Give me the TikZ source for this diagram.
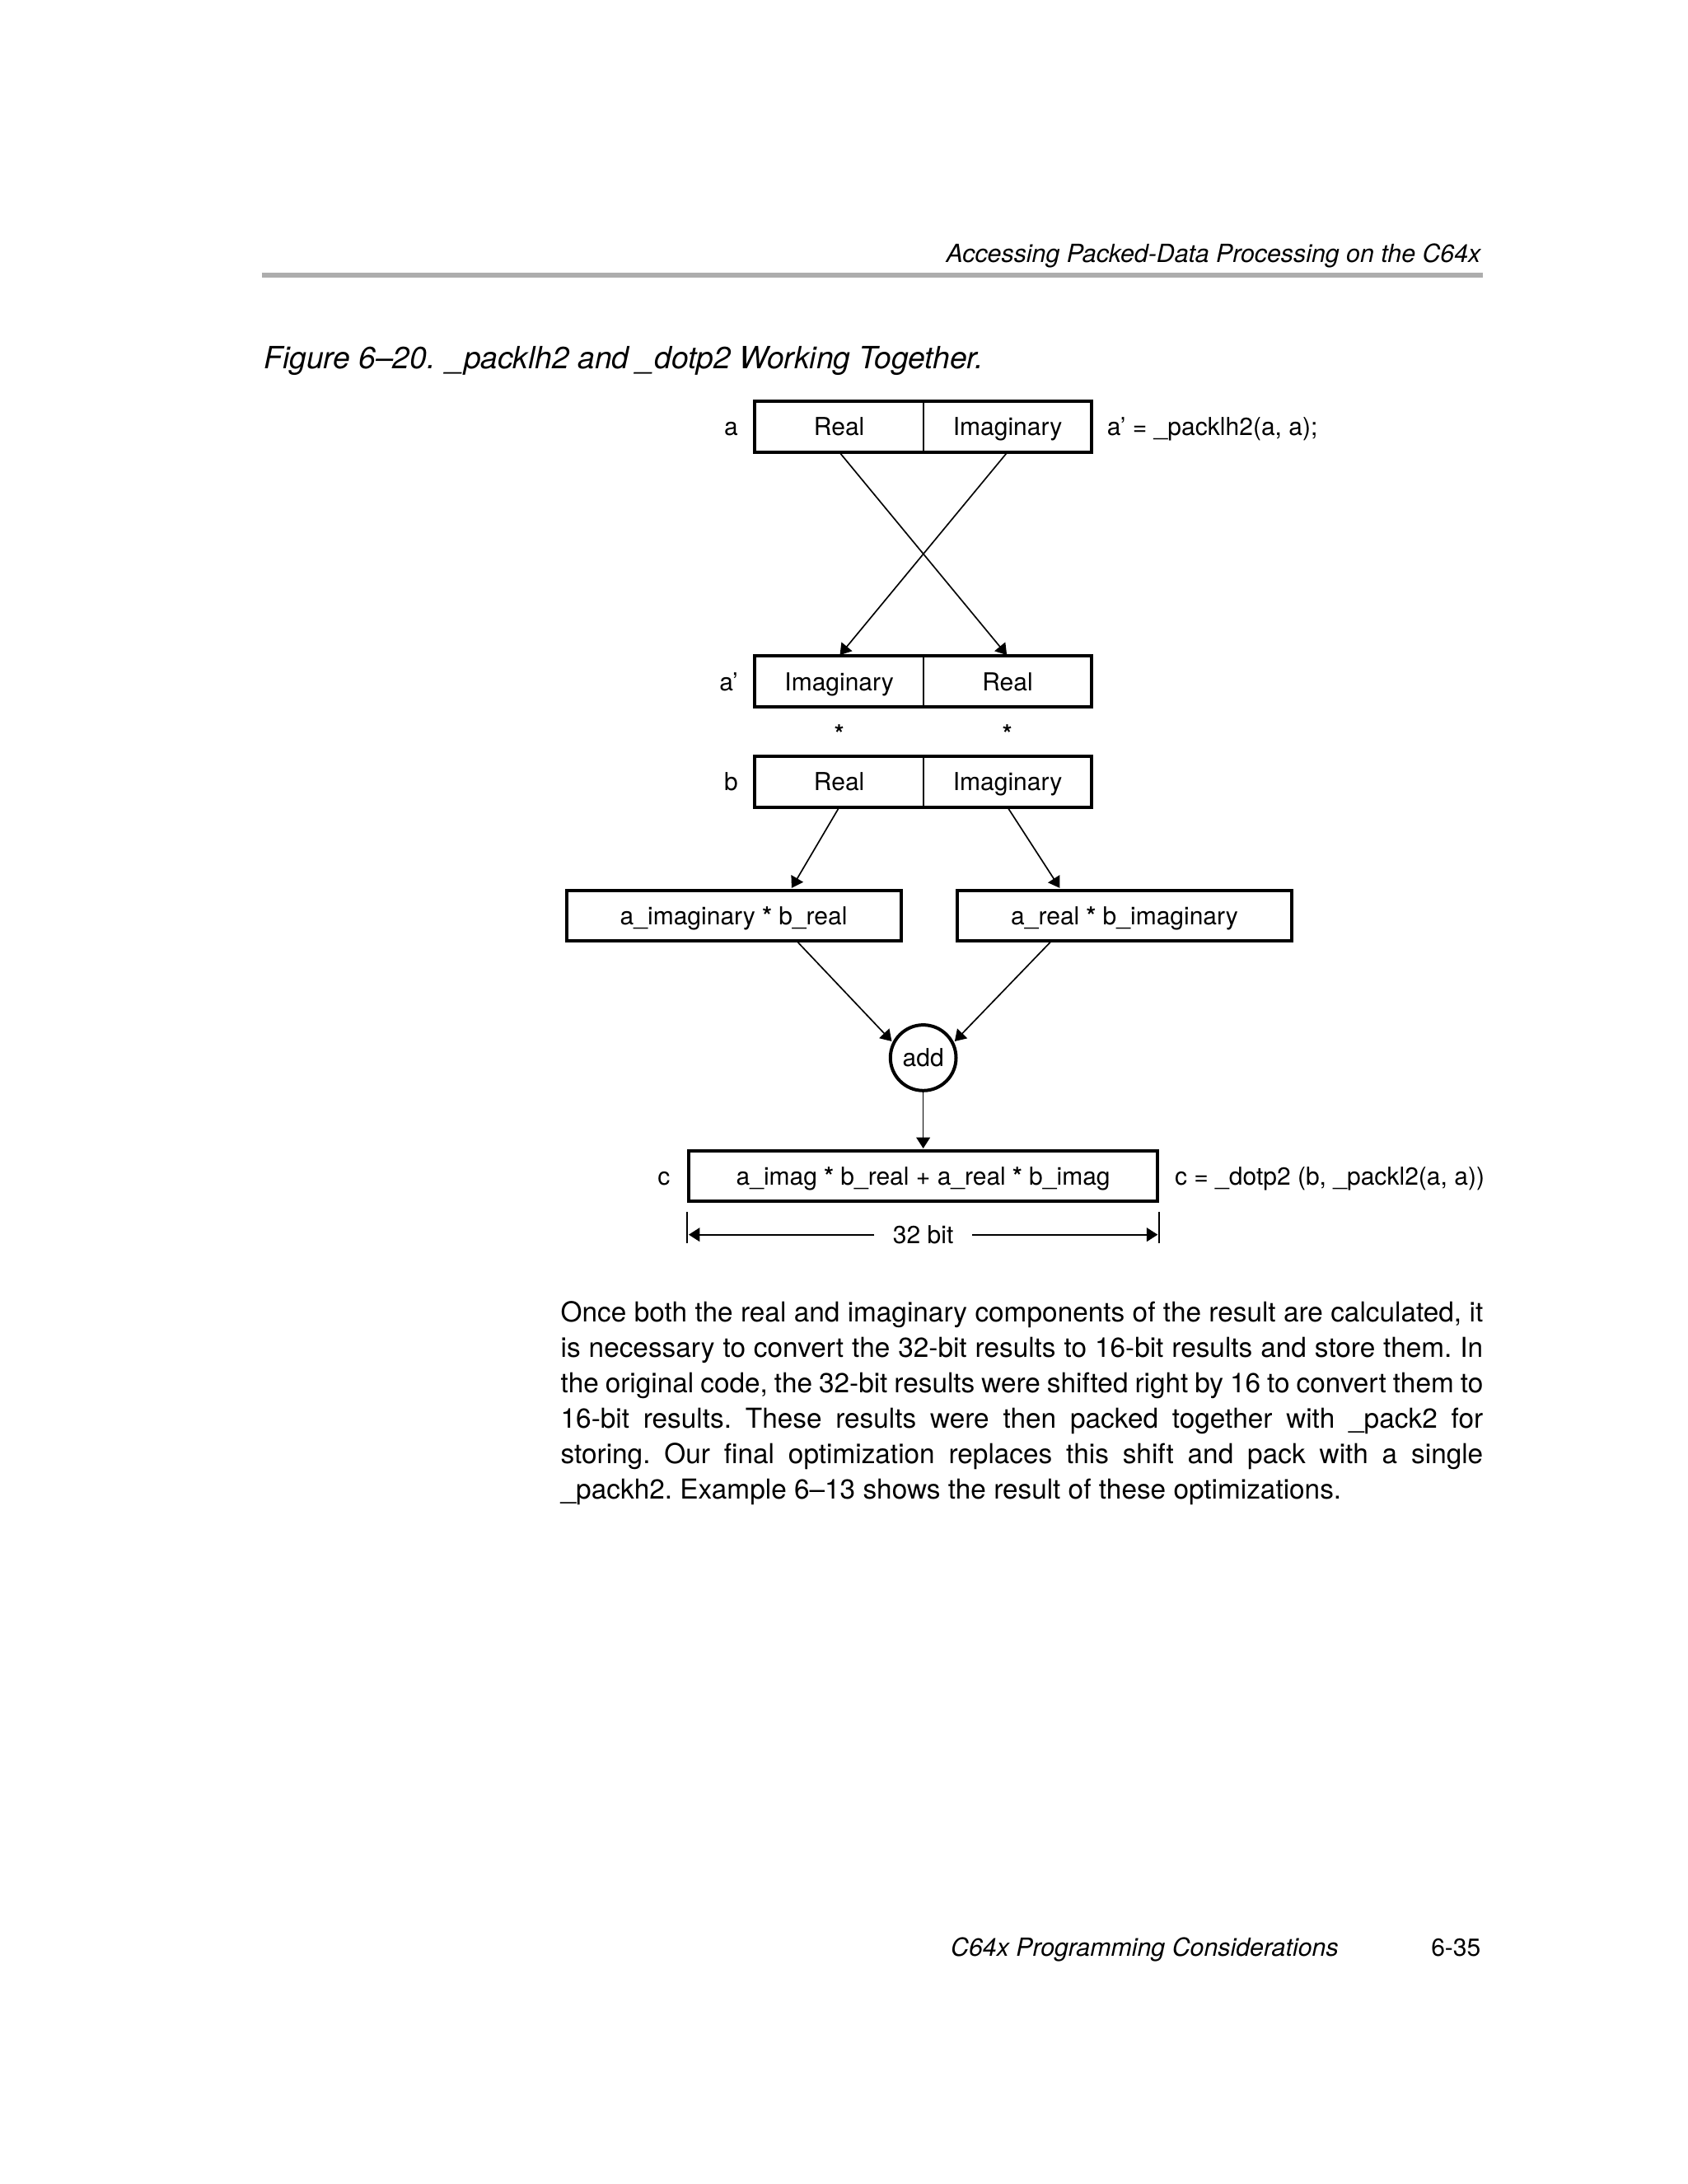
\documentclass[tikz,border=0pt]{standalone}
\usepackage{fontspec}
\setmainfont{TeX Gyre Heros}
\usetikzlibrary{
  arrows.meta,
  calc,
  positioning
}
\definecolor{ruleGray}{HTML}{ADADAD}
\newcommand{\diagsize}{\fontsize{9}{10.8}\selectfont}
\newcommand{\bodysize}{\fontsize{10}{12.9}\selectfont}
\newcommand{\mulstar}{\textbf{*}}
\tikzset{
  diagText/.style={
    font=\diagsize,
    inner sep=0pt,
    text height=8.5pt,
    text depth=1.9pt
  },
  regHalf/.style={
    diagText,
    minimum width=2.14cm,
    minimum height=0.64cm
  },
  regFrame/.style={line width=1.2pt},
  regDivider/.style={line width=0.5pt},
  prodBox/.style={
    diagText,
    draw,
    line width=1.2pt,
    minimum width=4.28cm,
    minimum height=0.64cm
  },
  addNode/.style={
    diagText,
    circle,
    draw,
    line width=1.2pt,
    minimum size=0.84cm
  },
  flowArrow/.style={-{Triangle[length=4pt,width=5pt]}, line width=0.5pt, shorten >=0.4pt},
  dimArrow/.style={-{Triangle[length=4pt,width=5pt]}, line width=0.5pt},
  dimTick/.style={line width=0.5pt},
  headText/.style={font=\fontsize{9.1}{11}\selectfont\itshape, inner sep=0pt},
  capText/.style={font=\fontsize{11.15}{13}\selectfont\itshape, inner sep=0pt},
  bodyText/.style={
    font=\bodysize\frenchspacing,
    inner sep=0pt,
    text width=11.80cm,
    align=justify
  }
}

\begin{document}
\begin{tikzpicture}[x=1cm,y=1cm]
  \fill[white] (0,0) rectangle (21.59,-27.94);
  \useasboundingbox (0,0) rectangle (21.59,-27.94);

  % running head
  \node[headText, anchor=base east] (runHead) at (18.95,-3.36)
    {Accessing Packed-Data Processing on the C64x};
  \draw[ruleGray, line width=2pt] (3.35,-3.52) -- (18.97,-3.52);
  \node[capText, anchor=base west] (figCap) at (3.37,-4.72)
    {Figure 6--20. \_packlh2 and \_dotp2 Working Together.};

  % register a
  \node[regHalf] (aRe) at (10.736,-5.455) {Real};
  \node[regHalf, right=0pt of aRe] (aIm) {Imaginary};
  \draw[regFrame] (aRe.north west) rectangle (aIm.south east);
  \draw[regDivider] (aRe.north east) -- (aRe.south east);
  \node[diagText, left=0.21cm of aRe] (aLbl) {a};
  \node[diagText, right=0.19cm of aIm] (aNote) {a’ = \_packlh2(a, a);};

  % register a'
  \node[regHalf] (apIm) at (10.736,-8.718) {Imaginary};
  \node[regHalf, right=0pt of apIm] (apRe) {Real};
  \draw[regFrame] (apIm.north west) rectangle (apRe.south east);
  \draw[regDivider] (apIm.north east) -- (apIm.south east);
  \node[diagText, left=0.21cm of apIm] (apLbl) {a’};

  \draw[flowArrow] (aRe.south) -- (apRe.north);
  \draw[flowArrow] (aIm.south) -- (apIm.north);

  \node[diagText] (starL) at (10.736,-9.38) {\mulstar};
  \node[diagText] (starR) at (12.886,-9.38) {\mulstar};

  % register b
  \node[regHalf] (bRe) at (10.736,-10.0) {Real};
  \node[regHalf, right=0pt of bRe] (bIm) {Imaginary};
  \draw[regFrame] (bRe.north west) rectangle (bIm.south east);
  \draw[regDivider] (bRe.north east) -- (bRe.south east);
  \node[diagText, left=0.21cm of bRe] (bLbl) {b};

  % products and sum
  \node[prodBox] (prodL) at (9.386,-11.713) {a\_imaginary \mulstar\ b\_real};
  \node[prodBox] (prodR) at (14.387,-11.713) {a\_real \mulstar\ b\_imaginary};
  \draw[flowArrow] (bRe.south) -- ($(prodL.north west)!0.67!(prodL.north east)$);
  \draw[flowArrow] (bIm.south) -- ($(prodR.north west)!0.31!(prodR.north east)$);

  \node[addNode] (add) at (11.811,-13.532) {add};
  \draw[flowArrow] ($(prodL.south west)!0.69!(prodL.south east)$) -- (add.153);
  \draw[flowArrow] ($(prodR.south west)!0.28!(prodR.south east)$) -- (add.27);

  \node[prodBox, minimum width=6.0cm] (c) at (11.811,-15.047)
    {a\_imag \mulstar\ b\_real + a\_real \mulstar\ b\_imag};
  \node[diagText, left=0.21cm of c] (cLbl) {c};
  \node[diagText, right=0.19cm of c] (cNote) {c = \_dotp2 (b, \_packl2(a, a))};
  \draw[flowArrow] (add.south) -- (c.north);

  % 32 bit span
  \coordinate (dimL) at (8.811,-15.795);
  \coordinate (dimR) at (14.811,-15.795);
  \draw[dimTick] ($(c.south west)+(0,-0.12)$) -- ++(0,-0.40);
  \draw[dimTick] ($(c.south east)+(0,-0.12)$) -- ++(0,-0.40);
  \node[diagText, inner xsep=0.23cm] (bitLbl) at (11.811,-15.795) {32 bit};
  \draw[dimArrow] (bitLbl.west) -- (dimL);
  \draw[dimArrow] (bitLbl.east) -- (dimR);

  % body text
  \node[bodyText, anchor=north west] (para) at (7.167,-16.64)
    {\tolerance=9999 Once both the real and imaginary components of the result are calculated, it\linebreak
    is necessary to convert the 32-bit results to 16-bit results and store them. In\linebreak
    the original code, the 32-bit results were shifted right by 16 to convert them to\linebreak
    16-bit results. These results were then packed together with \_pack2 for\linebreak
    storing. Our final optimization replaces this shift and pack with a single\linebreak
    \_packh2. Example 6--13 shows the result of these optimizations.};

  % page foot
  \node[headText, anchor=base east] (footTitle) at (17.13,-25.03)
    {C64x Programming Considerations};
  \node[font=\fontsize{9}{11}\selectfont, inner sep=0pt, anchor=base east] (pageNo) at (18.95,-25.03) {6-35};
\end{tikzpicture}
\end{document}
